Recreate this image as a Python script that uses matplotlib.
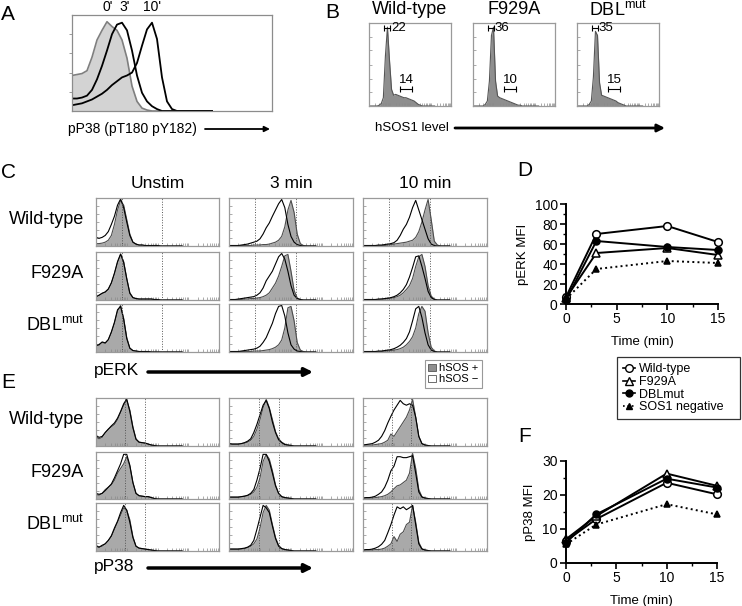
import numpy as np
import matplotlib.pyplot as plt
from matplotlib.patches import FancyArrowPatch, Patch
from matplotlib.lines import Line2D

# Arial-like font, superscripts in the same font
plt.rcParams['font.family'] = ['Liberation Sans', 'DejaVu Sans']
plt.rcParams['mathtext.default'] = 'regular'

#---------------------------------------------------------------------------------------
# Data. Histograms are heights (% of max) per channel bin,
# 40 channels across each box.
#---------------------------------------------------------------------------------------
# Panel A: pP38 at 0, 3, 10 min
A_0MIN = [37, 38, 39, 42, 56, 74, 84, 93, 88, 84, 74, 55, 26, 10, 3, 1, 0, 0, 0, 0, 0, 0, 0, 0, 0, 0, 0, 0, 0]
A_3MIN = [13, 13, 14, 16, 22, 33, 47, 63, 80, 90, 92, 84, 63, 37, 19, 10, 5, 2, 0, 0, 0, 0, 0, 0, 0, 0, 0, 0, 0]
A_10MIN = [6, 7, 8, 10, 12, 15, 18, 22, 27, 31, 35, 37, 40, 50, 68, 85, 92, 75, 35, 10, 2, 0, 0, 0, 0, 0, 0, 0, 0]
A_TIME_LABELS = ["0'", "3'", "10'"]

# Panel B: hSOS1 level
B_WT = [0, 0, 0, 0, 0, 1, 3, 10, 60, 95, 55, 20, 13, 14, 13, 12, 11, 10, 10, 9, 8, 7, 6, 4, 2, 1, 0, 0, 0, 0, 0, 0, 0]
B_F929A = [0, 0, 0, 0, 0, 0, 2, 6, 30, 85, 95, 30, 12, 10, 9, 8, 7, 6, 5, 4, 3, 2, 1, 1, 0, 0, 0, 0, 0, 0, 0, 0, 0]
B_DBL = [0, 0, 0, 0, 0, 0, 2, 6, 35, 90, 85, 28, 13, 12, 11, 10, 9, 8, 7, 6, 4, 3, 2, 1, 0, 0, 0, 0, 0, 0, 0, 0, 0]
B_PEAK_PCT = ['22', '36', '35']
B_TAIL_PCT = ['14', '10', '15']
B_PEAK_GATE = [7.4, 10.3]
B_TAIL_GATE = [15.1, 21.0]

ROW_NAMES = ['Wild-type', 'F929A', 'DBL$^{mut}$']
COL_NAMES = ['Unstim', '3 min', '10 min']

# Panel C: pERK, hSOS+ (filled) and hSOS- (line)
CU_WT_POS = [5, 5, 6, 8, 12, 22, 45, 75, 95, 85, 55, 25, 8, 4, 2, 2, 1, 1, 1, 1, 1, 0, 0, 0, 0, 0, 0, 0, 0]
CU_WT_NEG = [18, 16, 18, 22, 30, 45, 62, 85, 98, 80, 50, 22, 8, 4, 2, 2, 1, 1, 1, 1, 1, 0, 0, 0, 0, 0, 0, 0, 0]
CU_F_POS = [6, 10, 14, 16, 22, 35, 55, 78, 95, 80, 45, 15, 5, 3, 2, 2, 2, 2, 2, 1, 1, 0, 0, 0, 0, 0, 0, 0, 0]
CU_F_NEG = [7, 10, 14, 17, 23, 36, 56, 80, 96, 78, 44, 14, 5, 3, 2, 2, 2, 2, 2, 1, 1, 0, 0, 0, 0, 0, 0, 0, 0]
CU_D_POS = [14, 16, 20, 18, 25, 40, 60, 85, 97, 70, 30, 8, 3, 2, 1, 1, 1, 1, 0, 0, 0, 0, 0, 0, 0, 0, 0, 0, 0]
CU_D_NEG = [13, 15, 21, 19, 26, 42, 62, 88, 95, 68, 28, 8, 3, 2, 1, 1, 1, 1, 0, 0, 0, 0, 0, 0, 0, 0, 0, 0, 0]
C3_WT_POS = [1, 1, 1, 1, 1, 1, 1, 1, 2, 2, 2, 3, 3, 4, 6, 8, 12, 20, 40, 75, 95, 70, 25, 5, 1, 0, 0, 0, 0]
C3_WT_NEG = [1, 1, 1, 1, 2, 3, 4, 6, 8, 10, 15, 25, 38, 48, 62, 75, 88, 97, 80, 45, 20, 8, 3, 1, 0, 0, 0, 0, 0]
C3_F_POS = [1, 1, 1, 1, 1, 2, 2, 3, 3, 4, 5, 7, 10, 15, 25, 35, 50, 70, 92, 95, 60, 20, 4, 1, 0, 0, 0, 0, 0]
C3_F_NEG = [1, 1, 1, 2, 3, 4, 5, 6, 7, 10, 15, 25, 40, 50, 60, 75, 90, 97, 85, 60, 30, 10, 3, 1, 0, 0, 0, 0, 0]
C3_D_POS = [1, 1, 1, 1, 1, 1, 1, 1, 2, 2, 2, 3, 4, 5, 7, 10, 15, 25, 50, 92, 95, 65, 20, 4, 1, 0, 0, 0, 0]
C3_D_NEG = [1, 1, 1, 1, 2, 3, 4, 5, 6, 8, 12, 20, 30, 45, 60, 80, 95, 97, 75, 40, 15, 6, 2, 1, 0, 0, 0, 0, 0]
C10_WT_POS = [1, 1, 1, 1, 1, 1, 1, 1, 2, 3, 4, 5, 6, 7, 8, 10, 12, 18, 30, 50, 75, 97, 55, 10, 2, 0, 0, 0, 0]
C10_WT_NEG = [1, 1, 1, 1, 1, 2, 2, 3, 4, 5, 7, 12, 22, 35, 45, 60, 80, 95, 75, 55, 35, 15, 4, 1, 0, 0, 0, 0, 0]
C10_F_POS = [1, 1, 1, 1, 1, 1, 2, 2, 3, 4, 5, 7, 10, 15, 22, 30, 45, 70, 90, 95, 70, 30, 8, 2, 0, 0, 0, 0, 0]
C10_F_NEG = [1, 1, 1, 1, 1, 2, 2, 3, 4, 5, 7, 10, 15, 22, 32, 48, 68, 90, 92, 70, 45, 18, 5, 1, 0, 0, 0, 0, 0]
C10_D_POS = [1, 1, 1, 1, 1, 1, 1, 2, 2, 3, 4, 5, 7, 10, 15, 22, 32, 50, 80, 95, 85, 40, 10, 2, 0, 0, 0, 0, 0]
C10_D_NEG = [1, 1, 1, 1, 1, 2, 2, 3, 4, 5, 7, 10, 14, 20, 28, 42, 65, 90, 95, 72, 40, 15, 4, 1, 0, 0, 0, 0, 0]
C_GATES = [[8.4, 21.6], [8.4, 21.6], [8.4, 21.6]]

# Panel E: pP38, hSOS+ (filled) and hSOS- (line)
EU_WT_POS = [20, 15, 18, 28, 35, 40, 45, 55, 70, 85, 95, 75, 40, 15, 8, 7, 6, 4, 2, 1, 0, 0, 0, 0, 0, 0, 0, 0, 0]
EU_WT_NEG = [22, 18, 20, 28, 35, 42, 48, 58, 72, 88, 98, 72, 38, 14, 8, 7, 6, 4, 2, 1, 0, 0, 0, 0, 0, 0, 0, 0, 0]
EU_F_POS = [10, 8, 12, 20, 25, 30, 40, 55, 65, 75, 90, 70, 35, 12, 7, 6, 5, 5, 3, 1, 0, 0, 0, 0, 0, 0, 0, 0, 0]
EU_F_NEG = [12, 10, 12, 18, 25, 32, 45, 60, 75, 95, 95, 72, 35, 12, 7, 6, 5, 5, 3, 1, 0, 0, 0, 0, 0, 0, 0, 0, 0]
EU_D_POS = [12, 8, 10, 15, 22, 30, 45, 60, 75, 90, 85, 65, 30, 10, 6, 5, 4, 3, 2, 1, 0, 0, 0, 0, 0, 0, 0, 0, 0]
EU_D_NEG = [10, 8, 12, 15, 22, 32, 48, 62, 80, 95, 85, 60, 28, 10, 6, 5, 4, 3, 2, 1, 0, 0, 0, 0, 0, 0, 0, 0, 0]
E3_WT_POS = [5, 4, 4, 4, 5, 6, 8, 12, 20, 35, 55, 80, 97, 80, 55, 30, 15, 8, 4, 2, 1, 0, 0, 0, 0, 0, 0, 0, 0]
E3_WT_NEG = [5, 4, 4, 4, 5, 7, 10, 15, 28, 45, 65, 85, 95, 78, 50, 28, 13, 7, 3, 2, 1, 0, 0, 0, 0, 0, 0, 0, 0]
E3_F_POS = [4, 4, 4, 4, 5, 6, 7, 10, 15, 25, 45, 80, 95, 85, 60, 30, 12, 5, 3, 2, 1, 0, 0, 0, 0, 0, 0, 0, 0]
E3_F_NEG = [4, 4, 4, 4, 5, 6, 8, 12, 20, 40, 65, 95, 95, 80, 55, 28, 12, 5, 3, 2, 1, 0, 0, 0, 0, 0, 0, 0, 0]
E3_D_POS = [4, 4, 4, 4, 4, 5, 7, 10, 15, 25, 48, 80, 95, 85, 55, 28, 12, 5, 3, 2, 1, 0, 0, 0, 0, 0, 0, 0, 0]
E3_D_NEG = [4, 4, 4, 4, 5, 6, 8, 12, 22, 45, 70, 95, 90, 80, 52, 26, 10, 5, 3, 2, 1, 0, 0, 0, 0, 0, 0, 0, 0]
E10_WT_POS = [2, 2, 2, 2, 3, 4, 5, 8, 12, 25, 20, 30, 40, 50, 60, 75, 97, 60, 20, 5, 2, 1, 0, 0, 0, 0, 0, 0, 0]
E10_WT_NEG = [2, 3, 4, 5, 8, 12, 20, 32, 48, 62, 75, 85, 95, 88, 85, 88, 85, 60, 20, 5, 2, 1, 0, 0, 0, 0, 0, 0, 0]
E10_F_POS = [2, 2, 2, 2, 3, 4, 5, 7, 10, 15, 22, 28, 30, 35, 40, 55, 97, 65, 20, 5, 2, 1, 0, 0, 0, 0, 0, 0, 0]
E10_F_NEG = [2, 3, 3, 4, 6, 10, 15, 25, 40, 60, 70, 90, 90, 88, 88, 90, 92, 55, 15, 4, 2, 1, 0, 0, 0, 0, 0, 0, 0]
E10_D_POS = [2, 2, 2, 2, 3, 3, 4, 6, 10, 15, 30, 20, 35, 40, 55, 60, 95, 60, 18, 5, 2, 1, 0, 0, 0, 0, 0, 0, 0]
E10_D_NEG = [2, 3, 3, 4, 6, 9, 14, 22, 38, 55, 75, 92, 88, 92, 86, 90, 95, 55, 15, 4, 2, 1, 0, 0, 0, 0, 0, 0, 0]
E_GATES = [[9.4, 16.0], [9.6, 16.0], [9.4, 15.6]]

# Panels D and F: MFI time course
TIME = [0, 3, 10, 15]
PERK_WT = [7, 70, 78, 62]
PERK_F929A = [6, 51, 56, 49]
PERK_DBL = [4, 63, 57, 54]
PERK_NEG = [5, 35, 43, 41]
PP38_WT = [6.5, 12.9, 23.6, 20.2]
PP38_F929A = [7, 13.8, 26.3, 22.7]
PP38_DBL = [6, 14.3, 24.8, 22.2]
PP38_NEG = [5.5, 11.3, 17.3, 14.3]
SERIES_NAMES = ['Wild-type', 'F929A', 'DBLmut', 'SOS1 negative']

#---------------------------------------------------------------------------------------
# Layout helpers, everything placed in pixel units of the 742x606 canvas
#---------------------------------------------------------------------------------------
W, H = 742, 606
fig = plt.figure(figsize=(W / 100, H / 100), dpi=100)


def add_ax(x0, y0, x1, y1):
    return fig.add_axes([x0 / W, 1 - y1 / H, (x1 - x0) / W, (y1 - y0) / H])


def ftext(x, y, s, **kw):
    return fig.text(x / W, 1 - y / H, s, **kw)


def farrow(x0, x1, y, lw, scale):
    fig.add_artist(FancyArrowPatch((x0 / W, 1 - y / H), (x1 / W, 1 - y / H),
                                   transform=fig.transFigure, arrowstyle='-|>',
                                   mutation_scale=scale, lw=lw, color='black',
                                   shrinkA=0, shrinkB=0))


LOG_TICKS = [10 * d + 10 * np.log10(k) for d in range(4) for k in range(1, 10)]


def flow_box(ax, edge='#9a9a9a'):
    ax.set_xlim(0, 40)
    ax.set_ylim(0, 100)
    for s in ax.spines.values():
        s.set_color(edge)
        s.set_linewidth(0.9)
    ax.set_xticks(LOG_TICKS)
    ax.set_yticks([17, 33, 50, 67, 83])
    ax.tick_params(direction='in', length=2, width=0.5, color='#8a8a8a',
                   labelbottom=False, labelleft=False)


def flow_pair(ax, pos, neg, gates):
    ch = np.arange(len(pos))
    ax.fill_between(ch, pos, color='#a9a9a9', lw=0)
    ax.plot(ch, pos, color='#4d4d4d', lw=0.8)
    ax.plot(ch, neg, color='black', lw=0.8)
    for g in gates:
        ax.axvline(g, color='#555555', lw=0.7, ls=':')


# panel letters
for letter, x, y in [('A', 8, 14), ('B', 332, 12), ('C', 8, 173),
                     ('D', 525, 171), ('E', 8, 382), ('F', 525, 436)]:
    ftext(x, y, letter, fontsize=15, ha='center', va='center')

#---------------------------------------------------------------------------------------
# A - overlay of pP38 histograms
#---------------------------------------------------------------------------------------
axA = add_ax(72, 15, 272, 111)
chA = np.arange(len(A_0MIN))
axA.fill_between(chA, A_0MIN, color='#d3d3d3', lw=0)
axA.plot(chA, A_0MIN, color='#7f7f7f', lw=1.2)
axA.plot(chA, A_3MIN, color='black', lw=1.3)
axA.plot(chA, A_10MIN, color='black', lw=1.3)
axA.set_xlim(0, 40)
axA.set_ylim(0, 100)
for s in axA.spines.values():
    s.set_color('#8c8c8c')
    s.set_linewidth(0.9)
axA.set_xticks([])
axA.set_yticks([20, 40, 60, 80])
axA.tick_params(direction='out', length=2.5, width=0.6, color='#8a8a8a', labelleft=False)
for lab, x in zip(A_TIME_LABELS, [108, 125, 152]):
    ftext(x, 7, lab, fontsize=10, ha='center', va='center')
ftext(68, 129, 'pP38 (pT180 pY182)', fontsize=10, ha='left', va='center')
farrow(205, 270, 129, 1.3, 8)

#---------------------------------------------------------------------------------------
# B - hSOS1 expression
#---------------------------------------------------------------------------------------
b_curves = [B_WT, B_F929A, B_DBL]
b_cols = [(369, 451), (473, 555), (577, 659)]
for i, (x0, x1) in enumerate(b_cols):
    ax = add_ax(x0, 23, x1, 106)
    flow_box(ax)
    ch = np.arange(len(b_curves[i]))
    ax.fill_between(ch, b_curves[i], color='#8e8e8e', lw=0)
    ax.plot(ch, b_curves[i], color='#555555', lw=0.8)
    ax.plot(B_PEAK_GATE, [94, 94], color='black', lw=0.8, marker='|', ms=4, mew=0.8)
    ax.plot(B_TAIL_GATE, [20, 20], color='black', lw=0.8, marker='|', ms=4, mew=0.8)
    ax.text(10.7, 94, B_PEAK_PCT[i], fontsize=9.5, va='center', ha='left')
    ax.text(18.2, 31, B_TAIL_PCT[i], fontsize=9.5, va='center', ha='center')
    ftext((x0 + x1) / 2, 10, ROW_NAMES[i], fontsize=13, ha='center', va='center')
ftext(375, 128, 'hSOS1 level', fontsize=9.5, ha='left', va='center')
farrow(455, 665, 128, 2.0, 11)

#---------------------------------------------------------------------------------------
# C and E - grids of histograms
#---------------------------------------------------------------------------------------
cols_x = [(96, 219), (229, 353), (363, 487)]
c_rows_y = [(198, 246), (252, 300), (304, 352)]
e_rows_y = [(398, 446), (452, 499), (503, 551)]

c_pos = [[CU_WT_POS, C3_WT_POS, C10_WT_POS],
         [CU_F_POS, C3_F_POS, C10_F_POS],
         [CU_D_POS, C3_D_POS, C10_D_POS]]
c_neg = [[CU_WT_NEG, C3_WT_NEG, C10_WT_NEG],
         [CU_F_NEG, C3_F_NEG, C10_F_NEG],
         [CU_D_NEG, C3_D_NEG, C10_D_NEG]]
e_pos = [[EU_WT_POS, E3_WT_POS, E10_WT_POS],
         [EU_F_POS, E3_F_POS, E10_F_POS],
         [EU_D_POS, E3_D_POS, E10_D_POS]]
e_neg = [[EU_WT_NEG, E3_WT_NEG, E10_WT_NEG],
         [EU_F_NEG, E3_F_NEG, E10_F_NEG],
         [EU_D_NEG, E3_D_NEG, E10_D_NEG]]

for r in range(3):
    for c in range(3):
        ax = add_ax(cols_x[c][0], c_rows_y[r][0], cols_x[c][1], c_rows_y[r][1])
        flow_box(ax)
        flow_pair(ax, c_pos[r][c], c_neg[r][c], C_GATES[c])
        ax = add_ax(cols_x[c][0], e_rows_y[r][0], cols_x[c][1], e_rows_y[r][1])
        flow_box(ax)
        flow_pair(ax, e_pos[r][c], e_neg[r][c], E_GATES[c])
    ftext(84, sum(c_rows_y[r]) / 2 - 3, ROW_NAMES[r], fontsize=13, ha='right', va='center')
    ftext(84, sum(e_rows_y[r]) / 2 - 3, ROW_NAMES[r], fontsize=13, ha='right', va='center')

for c in range(3):
    ftext(sum(cols_x[c]) / 2, 183, COL_NAMES[c], fontsize=12.5, ha='center', va='center')

ftext(94, 371, 'pERK', fontsize=12.5, ha='left', va='center')
farrow(148, 313, 372, 2.5, 12)
ftext(94, 567, 'pP38', fontsize=12.5, ha='left', va='center')
farrow(148, 313, 568, 2.5, 12)

hsos_handles = [Patch(facecolor='#8e8e8e', edgecolor='#555555', lw=0.6),
                Patch(facecolor='white', edgecolor='#555555', lw=0.6)]
leg2 = fig.legend(hsos_handles, ['hSOS +', 'hSOS \u2212'], loc='upper left',
                  bbox_to_anchor=(425 / W, 1 - 360 / H), borderaxespad=0,
                  fontsize=8, handlelength=0.7, handleheight=0.7, handletextpad=0.3,
                  labelspacing=0.1, borderpad=0.3, fancybox=False, framealpha=1,
                  edgecolor='#999999')
leg2.get_frame().set_linewidth(0.8)

#---------------------------------------------------------------------------------------
# D and F - MFI over time
#---------------------------------------------------------------------------------------
STYLES = [dict(marker='o', mfc='white', ms=5.5, ls='-'),
          dict(marker='^', mfc='white', ms=5.5, ls='-'),
          dict(marker='o', mfc='black', ms=5, ls='-'),
          dict(marker='^', mfc='black', ms=4.5, ls=':')]


def mfi_axes(ax, series, ymax, ystep, ylabel):
    for vals, st in zip(series, STYLES):
        ax.plot(TIME, vals, color='black', lw=1.4, mec='black', mew=1.1,
                clip_on=False, **st)
    ax.set_xlim(0, 15)
    ax.set_ylim(0, ymax)
    ax.spines[['top', 'right']].set_visible(False)
    ax.spines[['left', 'bottom']].set_linewidth(1.4)
    ax.set_xticks([0, 5, 10, 15])
    ax.set_xticks([2.5, 7.5, 12.5], minor=True)
    ax.set_yticks(np.arange(0, ymax + 1, ystep))
    ax.set_yticks(np.arange(ystep / 2, ymax, ystep), minor=True)
    ax.tick_params(which='major', length=4, width=1.2, labelsize=10, pad=2)
    ax.tick_params(which='minor', length=2.5, width=1.0)
    ax.set_ylabel(ylabel, fontsize=9.5, labelpad=4)
    ax.set_xlabel('Time (min)', fontsize=9.5, labelpad=7)


axD = add_ax(566, 204, 718, 304)
mfi_axes(axD, [PERK_WT, PERK_F929A, PERK_DBL, PERK_NEG], 100, 20, 'pERK MFI')
axF = add_ax(566, 461, 717, 563)
mfi_axes(axF, [PP38_WT, PP38_F929A, PP38_DBL, PP38_NEG], 30, 10, 'pP38 MFI')

handles = [Line2D([], [], color='black', lw=1.2, mec='black', mew=1.0, **st) for st in STYLES]
leg = fig.legend(handles, SERIES_NAMES, loc='upper left',
                 bbox_to_anchor=(617 / W, 1 - 419 / H, 123 / W, 62 / H), mode='expand',
                 borderaxespad=0, fontsize=9, handlelength=0.9, handletextpad=0.35,
                 labelspacing=0.05, borderpad=0.5, fancybox=False, framealpha=1,
                 edgecolor='#333333')
leg.get_frame().set_linewidth(0.9)

fig.savefig('out.png', dpi=100)
